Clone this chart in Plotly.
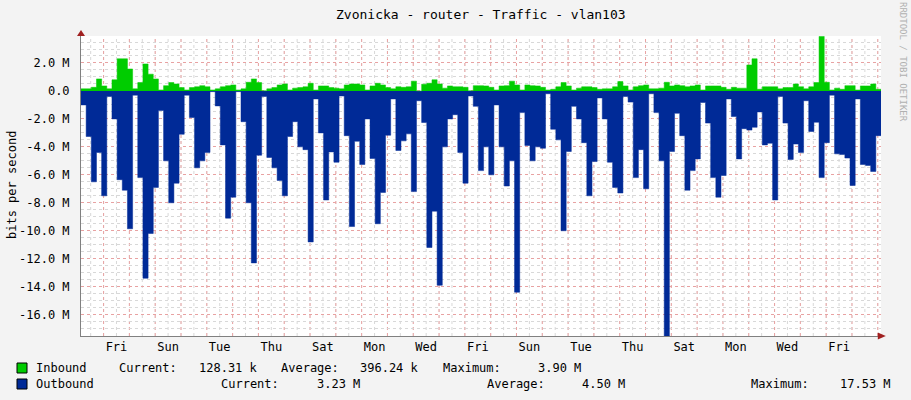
import plotly.graph_objects as go

STEP_H = 4.8  # hours per sample
inbound_m = [0.15,0.15,0.26,0.86,0.36,0.15,0.8,2.3,2.3,1.57,0.15,0.6,1.93,1.2,0.86,0.07,0.38,0.6,0.5,0.24,
             0.07,0.24,0.3,0.38,0.3,0.07,0.15,0.3,0.38,0.43,0.07,0.15,0.62,0.86,0.6,0.02,0.15,0.24,0.43,
             0.5,0.07,0.2,0.24,0.3,0.55,0.07,0.36,0.36,0.24,0.2,0.15,0.43,0.5,0.5,0.43,0.07,0.36,0.55,0.43,
             0.24,0.15,0.3,0.26,0.3,0.7,0.0,0.48,0.55,0.8,0.5,0.2,0.36,0.3,0.3,0.26,0.02,0.38,0.38,
             0.36,0.26,0.07,0.36,0.38,0.7,0.43,0.07,0.43,0.38,0.36,0.26,0.07,0.12,0.3,0.6,0.36,0.07,0.2,0.3,
             0.3,0.24,0.12,0.15,0.15,0.3,0.67,0.36,0.07,0.3,0.38,0.43,0.15,0.15,0.2,0.62,0.36,0.43,
             0.38,0.3,0.36,0.43,0.07,0.36,0.36,0.36,0.26,0.12,0.26,0.2,0.2,1.86,2.3,0.12,0.3,0.3,0.3,0.15,
             0.24,0.24,0.5,0.3,0.15,0.3,0.6,3.9,0.62,0.07,0.2,0.12,0.38,0.38,0.07,0.36,0.36,0.5,0.12]
outbound_m = [1.0,3.26,6.5,4.4,7.5,0.4,2.0,6.35,7.1,9.86,0.3,6.2,13.4,10.2,6.9,1.4,5.0,8.0,6.6,3.1,
              0.3,1.9,5.5,5.0,4.4,0.05,1.07,3.86,9.1,7.6,0.05,2.2,8.0,12.3,4.6,0.4,4.76,5.5,6.4,
              7.5,3.26,2.2,4.0,4.2,10.8,0.57,3.0,7.8,4.36,5.1,0.36,3.2,9.7,3.6,5.26,2.0,4.83,9.5,7.26,
              3.17,0.57,4.26,3.57,3.07,7.2,0.7,2.26,11.2,8.6,13.9,4.0,2.0,1.7,4.4,6.6,0.36,1.1,5.7,
              4.0,6.0,1.0,4.0,6.8,5.0,14.4,1.55,3.9,5.0,4.0,4.1,0.2,2.74,3.5,10.0,4.33,1.1,2.0,3.7,
              7.5,5.05,0.5,2.0,5.1,6.9,7.3,0.4,0.8,6.2,4.2,7.0,0.2,1.55,5.0,17.53,4.33,1.6,
              3.2,7.1,5.7,4.86,0.83,2.3,6.2,7.6,6.05,0.57,1.83,4.86,2.7,2.8,2.6,1.5,3.86,3.74,7.8,0.4,
              2.3,4.9,3.8,4.4,0.7,2.9,2.24,6.2,3.7,0.3,4.5,4.55,4.8,6.76,0.57,5.26,5.33,5.76,3.2]
day_labels = ["Fri","Sun","Tue","Thu","Sat","Mon","Wed","Fri","Sun","Tue","Thu","Sat","Mon","Wed","Fri"]
first_midnight_h = 21
ytick_vals_m = [2,0,-2,-4,-6,-8,-10,-12,-14,-16]
ytick_text = ["2.0 M","0.0","-2.0 M","-4.0 M","-6.0 M","-8.0 M","-10.0 M","-12.0 M","-14.0 M","-16.0 M"]

n = len(outbound_m)
x = [i*STEP_H for i in range(n+1)]
yin = [v*1e6 for v in inbound_m] + [inbound_m[-1]*1e6]
yout = [-v*1e6 for v in outbound_m] + [-outbound_m[-1]*1e6]
xmax = n*STEP_H

MONO = "DejaVu Sans Mono"
fig = go.Figure()
fig.add_trace(go.Scatter(x=x, y=yout, mode="lines", line=dict(shape="hv", width=0.5, color="#002A97"),
                         fill="tozeroy", fillcolor="#002A97", hoverinfo="skip"))
fig.add_trace(go.Scatter(x=x, y=yin, mode="lines", line=dict(shape="hv", width=0.5, color="#00CC00"),
                         fill="tozeroy", fillcolor="#00CC00", hoverinfo="skip"))

shapes = []
h = 9
while h < xmax:
    shapes.append(dict(type="line", xref="x", yref="paper", x0=h, x1=h, y0=0, y1=1, layer="below",
                       line=dict(color="#d8d8d8", width=1, dash="dot")))
    h += 12
h = first_midnight_h
while h < xmax:
    shapes.append(dict(type="line", xref="x", yref="paper", x0=h, x1=h, y0=0, y1=1, layer="below",
                       line=dict(color="rgba(240,140,140,0.7)", width=1, dash="dot")))
    h += 24
shapes.append(dict(type="path", xref="paper", yref="paper", path="M 0.996 -0.012 L 1.006 0 L 0.996 0.012 Z",
                   fillcolor="#a02020", line=dict(width=0)))
shapes.append(dict(type="path", xref="paper", yref="paper", path="M -0.005 1.0 L 0 1.02 L 0.005 1.0 Z",
                   fillcolor="#a02020", line=dict(width=0)))

tickx = [first_midnight_h + 12 + 48*k for k in range(len(day_labels))]

L, W = 81, 800
def px(p):
    return (p - L)/W
def txt(s, xp, yp, color="#000", size=12):
    return dict(text=s, x=px(xp), xref="paper", xanchor="left", y=1-(yp-36)/300, yref="paper",
                yanchor="middle", showarrow=False, font=dict(family=MONO, size=size, color=color))
ann = [dict(text="Zvonicka - router - Traffic - vlan103", x=0.5, xref="paper", xanchor="center",
            y=1+(36-15)/300, yref="paper", yanchor="middle", showarrow=False,
            font=dict(family=MONO, size=13, color="#000"))]
ann.append(dict(text="bits per second", x=px(12), xref="paper", xanchor="center", y=1-(185-36)/300,
                yref="paper", yanchor="middle", textangle=-90, showarrow=False,
                font=dict(family=MONO, size=12, color="#000")))
ann.append(dict(text="RRDTOOL / TOBI OETIKER", x=px(903), xref="paper", xanchor="center", y=1-(62-36)/300,
                yref="paper", yanchor="middle", textangle=90, showarrow=False,
                font=dict(family=MONO, size=9, color="#b0b0b0")))
ann += [
    txt("Inbound", 34, 368), txt("Current:", 117, 368), txt("128.31 k", 197, 368),
    txt("Average:", 279, 368), txt("396.24 k", 358, 368), txt("Maximum:", 441, 368), txt("3.90 M", 536, 368),
    txt("Outbound", 34, 384), txt("Current:", 219, 384), txt("3.23 M", 315, 384),
    txt("Average:", 485, 384), txt("4.50 M", 580, 384), txt("Maximum:", 749, 384), txt("17.53 M", 838, 384),
]
shapes.append(dict(type="rect", xref="paper", yref="paper", x0=px(17), x1=px(27),
                   y0=1-(373-36)/300, y1=1-(363-36)/300, fillcolor="#00CC00", line=dict(color="#000", width=1)))
shapes.append(dict(type="rect", xref="paper", yref="paper", x0=px(17), x1=px(27),
                   y0=1-(389-36)/300, y1=1-(379-36)/300, fillcolor="#002A97", line=dict(color="#000", width=1)))

fig.update_layout(
    width=911, height=400, margin=dict(l=81, r=30, t=36, b=64, autoexpand=False),
    paper_bgcolor="#f3f3f3", plot_bgcolor="#ffffff", showlegend=False,
    shapes=shapes, annotations=ann, font=dict(family=MONO, size=12, color="#000"),
    xaxis=dict(range=[0, xmax], tickmode="array", tickvals=tickx, ticktext=day_labels, showgrid=False,
               zeroline=False, showline=True, linecolor="#808080", ticks="", fixedrange=True, automargin=False),
    yaxis=dict(range=[-17.53e6, 3.93e6], tickmode="array", tickvals=[v*1e6 for v in ytick_vals_m],
               ticktext=ytick_text, showgrid=True, gridcolor="rgba(240,140,140,0.7)", griddash="dot",
               zeroline=False, showline=True, linecolor="#808080", ticks="", ticklabelstandoff=8, automargin=False,
               minor=dict(dtick=0.5e6, tick0=0, showgrid=True, gridcolor="#d8d8d8", griddash="dot")),
)
fig.write_html("out.html", config={"displayModeBar": False},
               post_script="document.body.style.margin='0';")
